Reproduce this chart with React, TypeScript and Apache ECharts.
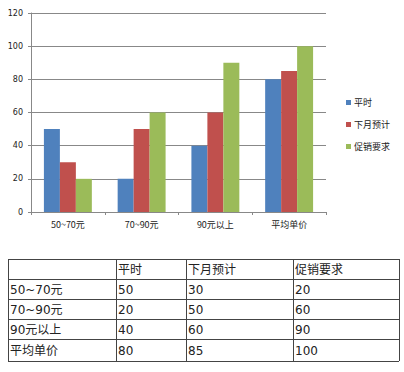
import React, { useEffect, useRef } from "react";
import * as echarts from "echarts";

const categories = ["50~70元", "70~90元", "90元以上", "平均单价"];
const seriesNames = ["平时", "下月预计", "促销要求"];
const normal = [50, 20, 40, 80];
const nextMonth = [30, 50, 60, 85];
const promo = [20, 60, 90, 100];
const colors = ["#4F81BD", "#C0504D", "#9BBB59"];

const colX = [8, 116, 186, 293, 399];
const rowY = [259, 279, 299, 319, 339, 361];

export default function App() {
  const ref = useRef<HTMLDivElement>(null);
  useEffect(() => {
    if (!ref.current) return;
    const chart = echarts.init(ref.current, undefined, { renderer: "svg" });
    const values = [normal, nextMonth, promo];
    const tableRows: string[][] = [
      ["", ...seriesNames],
      ...categories.map((c, i) => [c, ...values.map((v) => String(v[i]))]),
    ];
    const graphics: any[] = [];
    const lineStyle = { stroke: "#444", lineWidth: 1 };
    rowY.forEach((y) => {
      graphics.push({ type: "line", shape: { x1: colX[0], y1: y + 0.5, x2: colX[colX.length - 1], y2: y + 0.5 }, style: lineStyle });
    });
    colX.forEach((x) => {
      graphics.push({ type: "line", shape: { x1: x + 0.5, y1: rowY[0], x2: x + 0.5, y2: rowY[rowY.length - 1] }, style: lineStyle });
    });
    tableRows.forEach((row, r) => {
      row.forEach((cell, c) => {
        if (!cell) return;
        graphics.push({
          type: "text",
          x: colX[c] + 2,
          y: (rowY[r] + rowY[r + 1]) / 2 + 1,
          style: {
            text: cell,
            fill: "#222",
            font: "12px 'DejaVu Sans', 'Noto Sans CJK SC', sans-serif",
            verticalAlign: "middle",
            align: "left",
          },
        });
      });
    });

    chart.setOption({
      animation: false,
      backgroundColor: "#fff",
      color: colors,
      grid: { left: 31, right: 78, top: 13, bottom: 160, containLabel: false },
      legend: {
        orient: "vertical",
        left: 341,
        top: 93,
        itemWidth: 5,
        itemHeight: 5,
        itemGap: 13,
        icon: "rect",
        textStyle: { fontSize: 9, color: "#222", fontFamily: "'Noto Sans CJK SC', sans-serif", padding: [0, 0, 0, -2] },
        data: seriesNames,
      },
      xAxis: {
        type: "category",
        data: categories,
        axisLine: { lineStyle: { color: "#888" } },
        axisTick: { show: true, length: 3, lineStyle: { color: "#888" } },
        axisLabel: { color: "#222", fontSize: 9, margin: 8, fontFamily: "'Noto Sans CJK SC', sans-serif" },
      },
      yAxis: {
        type: "value",
        min: 0,
        max: 120,
        interval: 20,
        axisLine: { show: true, lineStyle: { color: "#888" } },
        axisTick: { show: true, length: 3, lineStyle: { color: "#888" } },
        axisLabel: { color: "#222", fontSize: 8, margin: 8, fontFamily: "'DejaVu Sans', sans-serif" },
        splitLine: { lineStyle: { color: "#888" } },
      },
      series: seriesNames.map((name, i) => ({
        name,
        type: "bar",
        data: values[i],
        barGap: "0%",
        barCategoryGap: "35%",
      })),
      graphic: graphics,
    });
    return () => chart.dispose();
  }, []);
  return <div ref={ref} style={{ width: 404, height: 372, position: "absolute", left: 0, top: 0 }} />;
}
